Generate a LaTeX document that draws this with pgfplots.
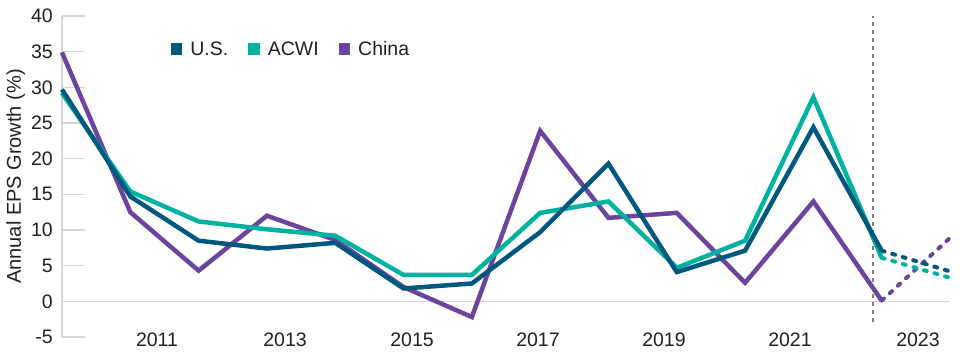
\documentclass[border=0pt]{standalone}
\usepackage{fontspec}
\setmainfont{Liberation Sans}
\usepackage{pgfplots}
\pgfplotsset{compat=1.18}
\definecolor{usblue}{HTML}{00587E}
\definecolor{acwi}{HTML}{00B2A0}
\definecolor{china}{HTML}{6C449E}
\definecolor{lgray}{HTML}{D6D6D6}
\definecolor{dgray}{HTML}{7F7F7F}
\definecolor{txt}{HTML}{231F20}
\begin{document}
\begin{tikzpicture}
\begin{axis}[
  name=ax,
  scale only axis, width=888pt, height=321pt,
  xmin=2010, xmax=2023, ymin=-5, ymax=40,
  clip=false,
  axis y line*=left, axis x line*=bottom,
  x axis line style={draw=none},
  y axis line style={-, draw=lgray, line width=1.2pt},
  xtick={2011.391,2013.265,2015.124,2016.968,2018.813,2020.657,2022.531},
  xticklabels={2011,2013,2015,2017,2019,2021,2023},
  xtick style={draw=none},
  xticklabel style={inner sep=0pt, anchor=north, yshift=4.5pt},
  ytick={0,5,...,40},
  yticklabels={0,5,10,15,20,25,30,35,40},
  extra y ticks={-5}, extra y tick labels={-5},
  extra y tick style={tick style={draw=none}},
  tick align=inside, major tick length=23pt,
  ytick style={draw=lgray, line width=1.2pt},
  yticklabel style={inner sep=0pt, anchor=east, xshift=-9pt},
  tick label style={font=\fontsize{19.5}{22}\selectfont, text=txt},
  ylabel={Annual EPS Growth (\%)},
  ylabel style={font=\fontsize{20}{22}\selectfont, text=txt, inner sep=0pt},
  ylabel shift=6pt,
  legend columns=3,
  reverse legend,
  legend style={draw=none, fill=none, at={(rel axis cs:0.119,0.897)}, anchor=west,
    font=\fontsize{19.5}{22}\selectfont, text=txt,
    /tikz/every even column/.append style={column sep=20pt},
    /tikz/every odd column/.append style={column sep=8pt},
    nodes={inner sep=0pt}},
  legend image code/.code={\fill[#1, draw=none] (0pt,-5.8pt) rectangle (11.5pt,5.8pt);},
]
\addplot[lgray, line width=1.2pt, forget plot] coordinates {(2010,0)(2023,0)};
\addplot[dgray, line width=1.5pt, dash pattern=on 4pt off 4pt, forget plot] coordinates {(2021.87,-2.9)(2021.87,40)};

\addplot[china, line width=4.5pt, line join=miter] coordinates {
(2010,34.9)(2011,12.5)(2012,4.3)(2013,12.0)(2014,8.6)(2015,2.0)(2016,-2.2)(2017,23.9)(2018,11.7)(2019,12.4)(2020,2.6)(2021,14.0)(2022,0.1)};
\addplot[acwi, line width=4.5pt, line join=miter] coordinates {
(2010,29.2)(2011,15.4)(2012,11.2)(2013,10.1)(2014,9.2)(2015,3.7)(2016,3.7)(2017,12.4)(2018,14.0)(2019,4.7)(2020,8.5)(2021,28.6)(2022,6.1)};
\addplot[usblue, line width=4.5pt, line join=miter] coordinates {
(2010,29.7)(2011,14.7)(2012,8.5)(2013,7.4)(2014,8.2)(2015,1.8)(2016,2.5)(2017,9.7)(2018,19.3)(2019,4.1)(2020,7.1)(2021,24.4)(2022,7.1)};

\addplot[china, line width=4pt, line cap=round, dash pattern=on 3pt off 8pt, forget plot] coordinates {(2022,0.1)(2023,8.9)};
\addplot[acwi, line width=4pt, line cap=round, dash pattern=on 3pt off 8pt, forget plot] coordinates {(2022,6.1)(2023,3.3)};
\addplot[usblue, line width=4pt, line cap=round, dash pattern=on 3pt off 8pt, forget plot] coordinates {(2022,7.1)(2023,4.2)};
\legend{China,ACWI,U.S.}
\end{axis}
\pgfresetboundingbox
\path ([shift={(-62pt,-15pt)}]ax.south west) rectangle ([shift={(10pt,16pt)}]ax.north east);
\end{tikzpicture}
\end{document}
